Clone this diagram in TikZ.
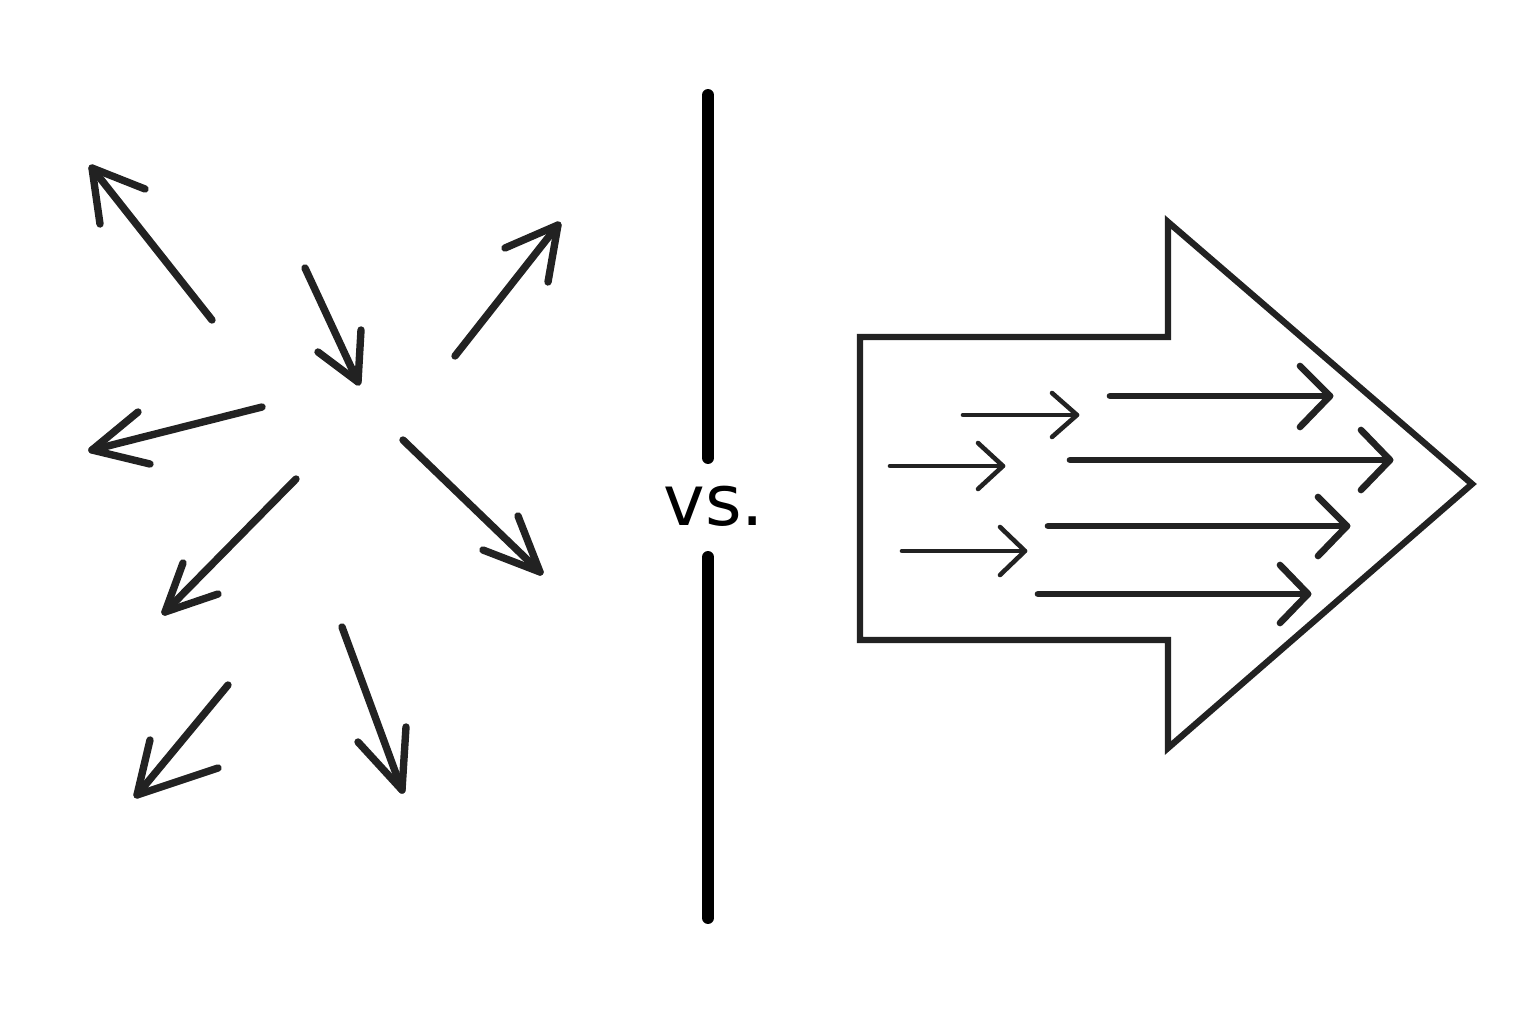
\documentclass[tikz,border=0pt]{standalone}
\usepackage{fontspec}
\setmainfont{DejaVu Sans}
\definecolor{ink}{HTML}{222222}
\begin{document}
\begin{tikzpicture}[x=0.01cm,y=-0.01cm,
  thick arr/.style={draw=ink,line width=2.1pt,line cap=round,line join=round},
  thin arr/.style={draw=ink,line width=1.3pt,line cap=round,line join=round},
  mid arr/.style={draw=ink,line width=1.9pt,line cap=round,line join=round},
  divider/.style={draw=black,line width=3.4pt,line cap=round},
  outline/.style={draw=ink,line width=1.8pt,line join=miter}]
\fill[white] (0,0) rectangle (1536,1024);
\useasboundingbox (0,0) rectangle (1536,1024);
% scattered arrows
\draw[thick arr] (212,320) -- (92,168);
\draw[thick arr] (145,189) -- (92,168) -- (100,224);
\draw[thick arr] (305,268) -- (358,382);
\draw[thick arr] (318,352) -- (358,382) -- (361,330);
\draw[thick arr] (455,356) -- (558,225);
\draw[thick arr] (505,248) -- (558,225) -- (548,282);
\draw[thick arr] (262,407) -- (92,450);
\draw[thick arr] (138,412) -- (92,450) -- (150,464);
\draw[thick arr] (403,440) -- (540,572);
\draw[thick arr] (483,550) -- (540,572) -- (518,516);
\draw[thick arr] (296,479) -- (165,612);
\draw[thick arr] (183,563) -- (165,612) -- (218,594);
\draw[thick arr] (228,685) -- (137,795);
\draw[thick arr] (150,740) -- (137,795) -- (218,768);
\draw[thick arr] (342,627) -- (402,790);
\draw[thick arr] (358,742) -- (402,790) -- (406,727);
% divider
\draw[divider] (708,95) -- (708,458);
\draw[divider] (708,557) -- (708,918);
\node[text=black,font=\fontsize{20}{24}\selectfont] (vs) at (714,506) {vs.};
% big arrow outline
\draw[outline] (860,337) -- (1168,337) -- (1168,222) -- (1472,484) -- (1168,748) -- (1168,640) -- (860,640) -- cycle;
% small inner arrows
\draw[thin arr] (963,415) -- (1077,415);
\draw[thin arr] (1052,393) -- (1077,415) -- (1052,437);
\draw[thin arr] (890,466) -- (1003,466);
\draw[thin arr] (978,443) -- (1003,466) -- (978,489);
\draw[thin arr] (902,551) -- (1025,551);
\draw[thin arr] (1000,527) -- (1025,551) -- (1000,575);
% long inner arrows
\draw[mid arr] (1110,396) -- (1330,396);
\draw[mid arr] (1300,366) -- (1330,396) -- (1300,427);
\draw[mid arr] (1070,460) -- (1390,460);
\draw[mid arr] (1361,430) -- (1390,460) -- (1361,490);
\draw[mid arr] (1048,526) -- (1347,526);
\draw[mid arr] (1318,497) -- (1347,526) -- (1318,556);
\draw[mid arr] (1038,594) -- (1308,594);
\draw[mid arr] (1280,565) -- (1308,594) -- (1280,623);
\end{tikzpicture}
\end{document}
